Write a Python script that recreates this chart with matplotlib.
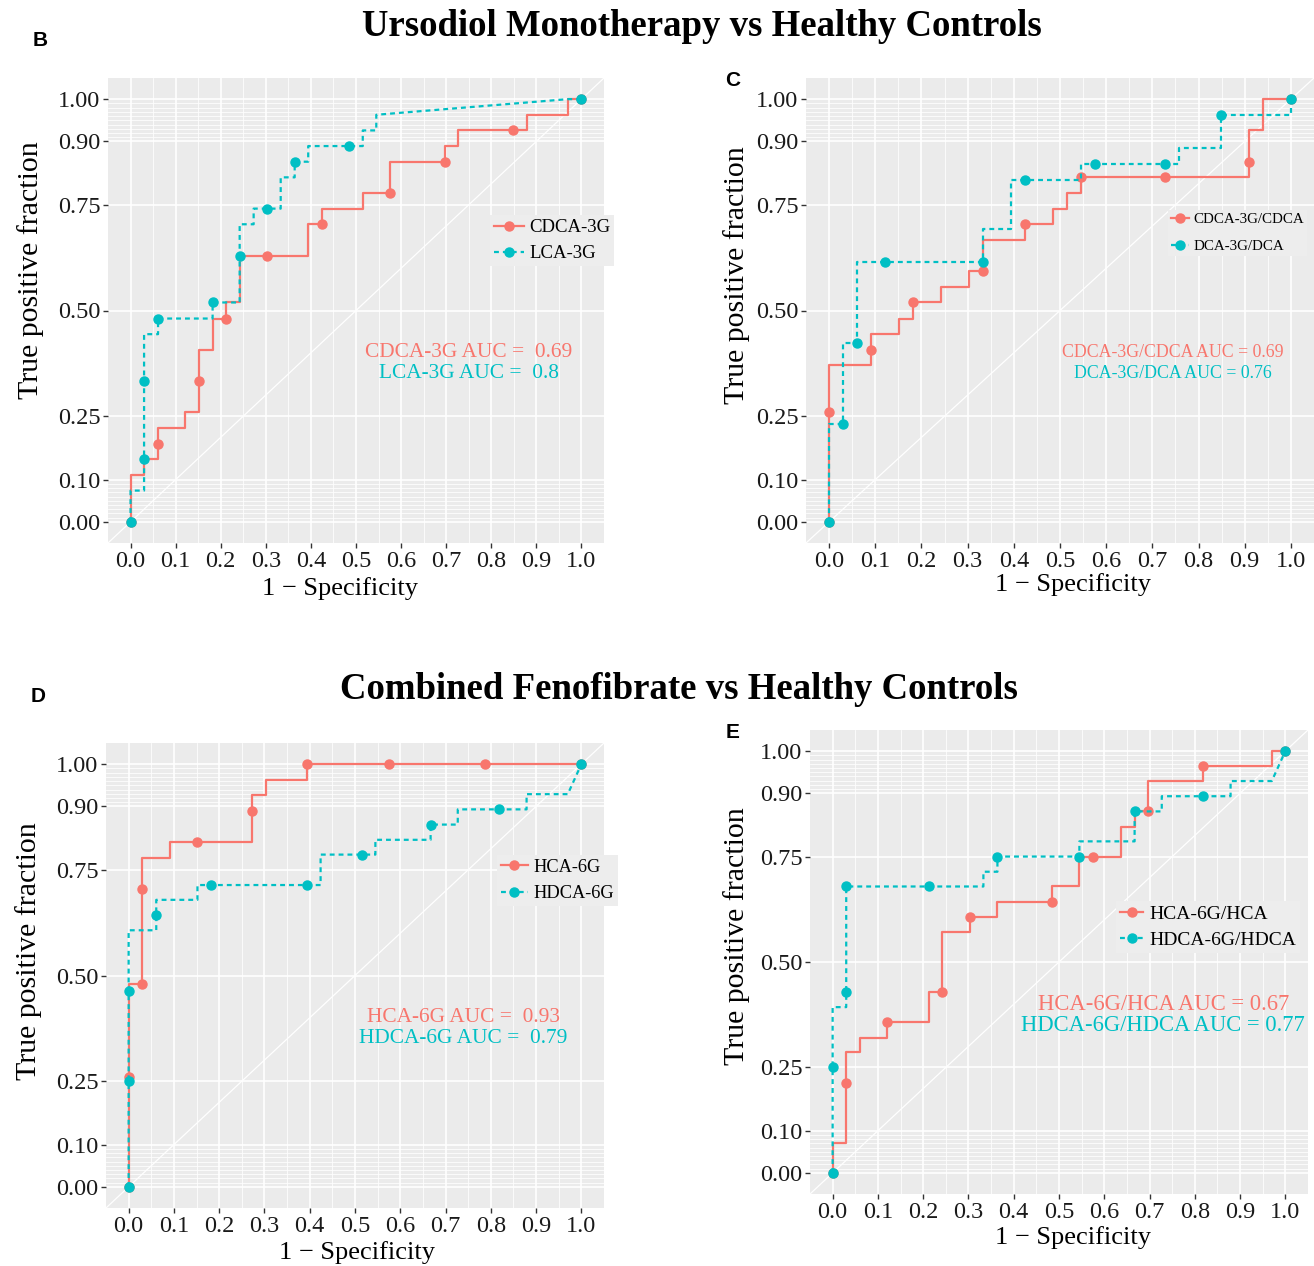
"""
Bile acid glucuronide ROC curves: ursodiol monotherapy and combined fenofibrate vs healthy controls
Four panels (B-E) in ggplot/plotROC style
"""

import matplotlib.pyplot as plt
from matplotlib.lines import Line2D

W, H = 1314, 1266
RED = '#F8766D'
TEAL = '#00BFC4'
SERIF = ['Liberation Serif', 'DejaVu Serif']

# ==================== data ====================

# Panel B: Ursodiol monotherapy, CDCA-3G vs LCA-3G
b_red_fpr = [0, 0, 0.030, 0.030, 0.061, 0.061, 0.121, 0.121, 0.152, 0.152, 0.182, 0.182,
             0.212, 0.212, 0.242, 0.242, 0.394, 0.394, 0.424, 0.424, 0.515, 0.515, 0.576,
             0.576, 0.697, 0.697, 0.727, 0.727, 0.879, 0.879, 0.970, 0.970, 1.0]
b_red_tpr = [0, 0.111, 0.111, 0.148, 0.148, 0.222, 0.222, 0.259, 0.259, 0.407, 0.407, 0.481,
             0.481, 0.519, 0.519, 0.630, 0.630, 0.704, 0.704, 0.741, 0.741, 0.778, 0.778,
             0.852, 0.852, 0.889, 0.889, 0.926, 0.926, 0.963, 0.963, 1.0, 1.0]
b_red_pt_x = [0, 0.061, 0.152, 0.212, 0.303, 0.424, 0.576, 0.697, 0.848, 1.0]
b_red_pt_y = [0, 0.185, 0.333, 0.481, 0.630, 0.704, 0.778, 0.852, 0.926, 1.0]
b_teal_fpr = [0, 0, 0.030, 0.030, 0.061, 0.061, 0.182, 0.182, 0.242, 0.242, 0.273, 0.273,
              0.333, 0.333, 0.364, 0.364, 0.394, 0.394, 0.515, 0.515, 0.545, 0.545, 0.970, 1.0]
b_teal_tpr = [0, 0.074, 0.074, 0.444, 0.444, 0.481, 0.481, 0.519, 0.519, 0.704, 0.704, 0.741,
              0.741, 0.815, 0.815, 0.852, 0.852, 0.889, 0.889, 0.926, 0.926, 0.963, 1.0, 1.0]
b_teal_pt_x = [0, 0.030, 0.030, 0.061, 0.182, 0.242, 0.303, 0.364, 0.485, 1.0]
b_teal_pt_y = [0, 0.148, 0.333, 0.481, 0.519, 0.630, 0.741, 0.852, 0.889, 1.0]
b_labels = ['CDCA-3G', 'LCA-3G']
b_auc = ['CDCA-3G AUC =  0.69', 'LCA-3G AUC =  0.8']

# Panel C: ratios CDCA-3G/CDCA vs DCA-3G/DCA
c_red_fpr = [0, 0, 0.091, 0.091, 0.152, 0.152, 0.182, 0.182, 0.242, 0.242, 0.303, 0.303,
             0.333, 0.333, 0.424, 0.424, 0.485, 0.485, 0.515, 0.515, 0.545, 0.545, 0.909,
             0.909, 0.939, 0.939, 1.0]
c_red_tpr = [0, 0.370, 0.370, 0.444, 0.444, 0.481, 0.481, 0.519, 0.519, 0.556, 0.556, 0.593,
             0.593, 0.667, 0.667, 0.704, 0.704, 0.741, 0.741, 0.778, 0.778, 0.815, 0.815,
             0.926, 0.926, 1.0, 1.0]
c_red_pt_x = [0, 0, 0.091, 0.182, 0.333, 0.424, 0.545, 0.727, 0.909, 1.0]
c_red_pt_y = [0, 0.259, 0.407, 0.519, 0.593, 0.704, 0.815, 0.815, 0.852, 1.0]
c_teal_fpr = [0, 0, 0.030, 0.030, 0.061, 0.061, 0.333, 0.333, 0.394, 0.394, 0.545, 0.545,
              0.758, 0.758, 0.848, 0.848, 1.0, 1.0]
c_teal_tpr = [0, 0.231, 0.231, 0.423, 0.423, 0.615, 0.615, 0.692, 0.692, 0.808, 0.808, 0.846,
              0.846, 0.885, 0.885, 0.962, 0.962, 1.0]
c_teal_pt_x = [0, 0.030, 0.061, 0.121, 0.333, 0.424, 0.576, 0.727, 0.848, 1.0]
c_teal_pt_y = [0, 0.231, 0.423, 0.615, 0.615, 0.808, 0.846, 0.846, 0.962, 1.0]
c_labels = ['CDCA-3G/CDCA', 'DCA-3G/DCA']
c_auc = ['CDCA-3G/CDCA AUC = 0.69', 'DCA-3G/DCA AUC = 0.76']

# Panel D: combined fenofibrate, HCA-6G vs HDCA-6G
d_red_fpr = [0, 0, 0.030, 0.030, 0.091, 0.091, 0.273, 0.273, 0.303, 0.303, 0.394, 0.394, 1.0]
d_red_tpr = [0, 0.481, 0.481, 0.778, 0.778, 0.815, 0.815, 0.926, 0.926, 0.963, 0.963, 1.0, 1.0]
d_red_pt_x = [0, 0, 0.030, 0.030, 0.152, 0.273, 0.394, 0.576, 0.788, 1.0]
d_red_pt_y = [0, 0.259, 0.481, 0.704, 0.815, 0.889, 1.0, 1.0, 1.0, 1.0]
d_teal_fpr = [0, 0, 0.061, 0.061, 0.152, 0.152, 0.424, 0.424, 0.545, 0.545, 0.667, 0.667,
              0.727, 0.727, 0.879, 0.879, 0.970, 1.0]
d_teal_tpr = [0, 0.607, 0.607, 0.679, 0.679, 0.714, 0.714, 0.786, 0.786, 0.821, 0.821, 0.857,
              0.857, 0.893, 0.893, 0.929, 0.929, 1.0]
d_teal_pt_x = [0, 0, 0, 0.061, 0.182, 0.394, 0.515, 0.667, 0.818, 1.0]
d_teal_pt_y = [0, 0.250, 0.464, 0.643, 0.714, 0.714, 0.786, 0.857, 0.893, 1.0]
d_labels = ['HCA-6G', 'HDCA-6G']
d_auc = ['HCA-6G AUC =  0.93', 'HDCA-6G AUC =  0.79']

# Panel E: ratios HCA-6G/HCA vs HDCA-6G/HDCA
e_red_fpr = [0, 0, 0.030, 0.030, 0.061, 0.061, 0.121, 0.121, 0.212, 0.212, 0.242, 0.242,
             0.303, 0.303, 0.364, 0.364, 0.485, 0.485, 0.545, 0.545, 0.636, 0.636, 0.667,
             0.667, 0.697, 0.697, 0.818, 0.818, 0.970, 0.970, 1.0]
e_red_tpr = [0, 0.071, 0.071, 0.286, 0.286, 0.321, 0.321, 0.357, 0.357, 0.429, 0.429, 0.571,
             0.571, 0.607, 0.607, 0.643, 0.643, 0.679, 0.679, 0.750, 0.750, 0.821, 0.821,
             0.857, 0.857, 0.929, 0.929, 0.964, 0.964, 1.0, 1.0]
e_red_pt_x = [0, 0.030, 0.121, 0.242, 0.303, 0.485, 0.576, 0.697, 0.818, 1.0]
e_red_pt_y = [0, 0.214, 0.357, 0.429, 0.607, 0.643, 0.750, 0.857, 0.964, 1.0]
e_teal_fpr = [0, 0, 0.030, 0.030, 0.333, 0.333, 0.364, 0.364, 0.545, 0.545, 0.667, 0.667,
              0.727, 0.727, 0.879, 0.879, 0.970, 1.0]
e_teal_tpr = [0, 0.393, 0.393, 0.679, 0.679, 0.714, 0.714, 0.750, 0.750, 0.786, 0.786, 0.857,
              0.857, 0.893, 0.893, 0.929, 0.929, 1.0]
e_teal_pt_x = [0, 0, 0.030, 0.030, 0.212, 0.364, 0.545, 0.667, 0.818, 1.0]
e_teal_pt_y = [0, 0.250, 0.429, 0.679, 0.679, 0.750, 0.750, 0.857, 0.893, 1.0]
e_labels = ['HCA-6G/HCA', 'HDCA-6G/HDCA']
e_auc = ['HCA-6G/HCA AUC = 0.67', 'HDCA-6G/HDCA AUC = 0.77']

x_ticks = [0.0, 0.1, 0.2, 0.3, 0.4, 0.5, 0.6, 0.7, 0.8, 0.9, 1.0]
y_ticks = [0.00, 0.10, 0.25, 0.50, 0.75, 0.90, 1.00]
x_minor = [0.05, 0.15, 0.25, 0.35, 0.45, 0.55, 0.65, 0.75, 0.85, 0.95]
y_minor = [i / 100 for i in range(1, 10)] + [i / 100 for i in range(91, 100)]


def add_panel(rect, red, teal, labels, auc, style):
    # rect in pixels: left, top, right, bottom
    l, t, r, b = rect
    ax = fig.add_axes([l / W, 1 - b / H, (r - l) / W, (b - t) / H])
    ax.set_facecolor('#EBEBEB')
    for s in ax.spines.values():
        s.set_visible(False)
    ax.set_xlim(-0.05, 1.05)
    ax.set_ylim(-0.05, 1.05)
    ax.set_xticks(x_ticks)
    ax.set_xticklabels([f'{v:.1f}' for v in x_ticks])
    ax.set_yticks(y_ticks)
    ax.set_yticklabels([f'{v:.2f}' for v in y_ticks])
    ax.set_xticks(x_minor, minor=True)
    ax.set_yticks(y_minor, minor=True)
    ax.grid(True, which='major', color='white', lw=1.2)
    ax.grid(True, which='minor', color='white', lw=0.55)
    ax.set_axisbelow(True)
    ax.tick_params(which='major', length=3.5, width=1, color='#333333', labelcolor='#1a1a1a',
                   labelsize=17.5, pad=2)
    ax.tick_params(which='minor', length=0)
    for lab in ax.get_xticklabels() + ax.get_yticklabels():
        lab.set_family(SERIF)

    ax.axline((0, 0), slope=1, color='white', lw=0.9, zorder=1)

    # red: solid, teal: dashed (teal drawn on top)
    ax.plot(red[0], red[1], color=RED, lw=1.6, zorder=3)
    ax.plot(red[2], red[3], 'o', color=RED, ms=6.5, zorder=3)
    ax.plot(teal[0], teal[1], color=TEAL, lw=1.6, ls=(0, (2.2, 1.8)), zorder=4)
    ax.plot(teal[2], teal[3], 'o', color=TEAL, ms=6.5, zorder=4)

    ax.text(style['auc_x'], 0.40, auc[0], color=RED, fontsize=style['auc_fs'], family=SERIF,
            ha='center', va='center', zorder=5)
    ax.text(style['auc_x'], 0.35, auc[1], color=TEAL, fontsize=style['auc_fs'], family=SERIF,
            ha='center', va='center', zorder=5)

    handles = [Line2D([], [], color=RED, lw=1.6, marker='o', ms=6.5),
               Line2D([], [], color=TEAL, lw=1.6, ls=(0, (2.2, 1.8)), marker='o', ms=6.5)]
    fs = style['leg_fs']
    leg = ax.legend(handles, labels, loc='center left', bbox_to_anchor=style['leg'],
                    prop={'family': SERIF, 'size': fs}, frameon=True, facecolor='#EDEDED',
                    edgecolor='none', framealpha=1, fancybox=False,
                    handlelength=style['hl'], handletextpad=0.3,
                    labelspacing=(28 - fs * 1.389) / (fs * 1.389), borderpad=0.2,
                    borderaxespad=0)
    leg.set_zorder(6)

    ax.set_xlabel('1 \u2212 Specificity', family=SERIF, fontsize=19, color='black')
    ax.xaxis.set_label_coords(style['xlab'][0], style['xlab'][1])
    ax.xaxis.label.set_va('center')
    ax.set_ylabel('True positive fraction', family=SERIF, fontsize=21.5, color='black')
    ax.yaxis.set_label_coords(style['ylab'][0], style['ylab'][1])
    ax.yaxis.label.set_va('center')
    return ax


fig = plt.figure(figsize=(W / 100, H / 100), dpi=100)

add_panel((108, 78, 604, 543),
          (b_red_fpr, b_red_tpr, b_red_pt_x, b_red_pt_y),
          (b_teal_fpr, b_teal_tpr, b_teal_pt_x, b_teal_pt_y),
          b_labels, b_auc,
          dict(leg=(0.77, 0.65), leg_fs=13.5, hl=1.6, auc_x=0.75, auc_fs=15.4,
               xlab=(0.468, -0.097), ylab=(-0.157, 0.587)))
add_panel((806, 78, 1314, 543),
          (c_red_fpr, c_red_tpr, c_red_pt_x, c_red_pt_y),
          (c_teal_fpr, c_teal_tpr, c_teal_pt_x, c_teal_pt_y),
          c_labels, c_auc,
          dict(leg=(0.712, 0.667), leg_fs=10.8, hl=1.2, auc_x=0.745, auc_fs=12.8,
               xlab=(0.526, -0.090), ylab=(-0.136, 0.576)))
add_panel((106, 743, 604, 1208),
          (d_red_fpr, d_red_tpr, d_red_pt_x, d_red_pt_y),
          (d_teal_fpr, d_teal_tpr, d_teal_pt_x, d_teal_pt_y),
          d_labels, d_auc,
          dict(leg=(0.785, 0.704), leg_fs=13.2, hl=1.5, auc_x=0.74, auc_fs=15.4,
               xlab=(0.504, -0.095), ylab=(-0.156, 0.553)))
add_panel((810, 730, 1308, 1194),
          (e_red_fpr, e_red_tpr, e_red_pt_x, e_red_pt_y),
          (e_teal_fpr, e_teal_tpr, e_teal_pt_x, e_teal_pt_y),
          e_labels, e_auc,
          dict(leg=(0.615, 0.575), leg_fs=14, hl=1.2, auc_x=0.73, auc_fs=16.3,
               xlab=(0.528, -0.093), ylab=(-0.148, 0.556)))

# titles and panel letters
fig.text(702 / W, 1 - 27 / H, 'Ursodiol Monotherapy vs Healthy Controls', family=SERIF,
         fontsize=26.5, fontweight='bold', ha='center', va='center')
fig.text(679 / W, 1 - 689 / H, 'Combined Fenofibrate vs Healthy Controls', family=SERIF,
         fontsize=26.5, fontweight='bold', ha='center', va='center')
for letter, (px, py) in zip('BCDE', [(40, 40), (733, 80), (38, 697), (733, 733)]):
    fig.text(px / W, 1 - py / H, letter, family=['Liberation Sans', 'DejaVu Sans'],
             fontsize=15, fontweight='bold', ha='center', va='center')

plt.savefig('out.png', dpi=100)
